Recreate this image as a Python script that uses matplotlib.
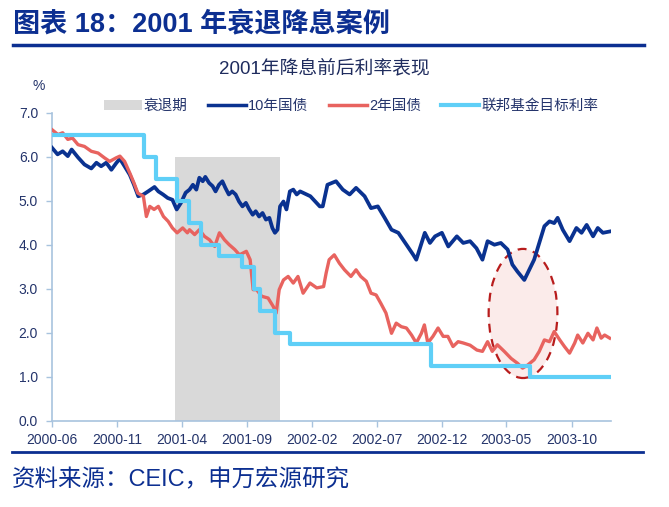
import matplotlib
matplotlib.use("Agg")
import matplotlib.pyplot as plt
import matplotlib.dates as mdates
from matplotlib.patches import Ellipse, Patch
from matplotlib.lines import Line2D
import pandas as pd

plt.rcParams['font.family'] = ['Liberation Sans', 'Noto Sans CJK SC', 'DejaVu Sans']

# ---------------- data ----------------
t10_dates = ["2000-06-01","2000-06-14","2000-06-26","2000-07-08","2000-07-17","2000-08-01","2000-08-16","2000-09-01","2000-09-13","2000-09-24",
             "2000-10-06","2000-10-18","2000-10-30","2000-11-07","2000-11-18","2000-11-30","2000-12-10","2000-12-20","2001-01-01","2001-01-12",
             "2001-01-27","2001-02-05","2001-02-16","2001-02-27","2001-03-10","2001-03-20","2001-03-30","2001-04-10",
             "2001-04-19","2001-04-27","2001-05-05","2001-05-12","2001-05-20","2001-05-26","2001-06-04","2001-06-12","2001-06-19","2001-06-27",
             "2001-07-05","2001-07-12","2001-07-20","2001-07-28","2001-08-05","2001-08-13","2001-08-21","2001-08-29","2001-09-06","2001-09-14",
             "2001-09-21","2001-09-29","2001-10-07","2001-10-15","2001-10-23","2001-10-30","2001-11-05","2001-11-11","2001-11-17","2001-11-25",
             "2001-12-02","2001-12-10","2001-12-18","2001-12-26","2002-01-03",
             "2002-01-27","2002-02-18","2002-02-25","2002-03-08","2002-03-28",
             "2002-04-13","2002-04-29","2002-05-14","2002-06-03","2002-06-18","2002-07-04","2002-07-20","2002-08-05","2002-08-21","2002-09-09",
             "2002-09-25","2002-10-02","2002-10-22","2002-11-03","2002-11-15","2002-12-01","2002-12-16","2003-01-05","2003-01-20","2003-02-05",
             "2003-02-20","2003-03-06","2003-03-18","2003-04-03","2003-04-18","2003-05-04","2003-05-15","2003-05-27","2003-06-12","2003-06-20",
             "2003-07-05","2003-07-17","2003-07-29","2003-08-10","2003-08-21","2003-08-29","2003-09-10","2003-09-26","2003-10-12","2003-10-24",
             "2003-11-05","2003-11-20","2003-12-01","2003-12-13","2003-12-29"]
t10_vals = [6.20,6.05,6.12,6.01,6.16,5.98,5.82,5.73,5.86,5.78,
            5.86,5.70,5.86,5.95,5.78,5.59,5.36,5.10,5.14,5.21,
            5.31,5.21,5.14,5.06,5.02,4.80,4.95,5.18,
            5.25,5.36,5.25,5.52,5.44,5.54,5.40,5.33,5.21,5.36,
            5.44,5.29,5.14,5.21,5.14,4.98,4.87,4.95,4.80,4.68,
            4.76,4.64,4.72,4.57,4.61,4.38,4.27,4.34,4.87,4.98,
            4.80,5.21,5.25,5.14,5.21,
            5.10,4.87,4.87,5.36,5.44,
            5.25,5.14,5.29,5.10,4.83,4.87,4.61,4.34,4.27,4.00,
            3.77,3.66,4.27,4.04,4.19,4.27,3.96,4.19,4.04,4.08,
            3.92,3.66,4.08,4.00,4.04,3.89,3.55,3.39,3.20,3.36,
            3.66,4.04,4.42,4.53,4.49,4.61,4.34,4.08,4.38,4.27,
            4.45,4.19,4.38,4.27,4.30]

t2_dates = ["2000-06-01","2000-06-15","2000-06-26","2000-07-08","2000-07-19","2000-08-01","2000-08-16","2000-09-01","2000-09-17","2000-10-02",
            "2000-10-14","2000-10-29","2000-11-07","2000-11-18","2000-11-30","2000-12-10","2000-12-19","2001-01-01","2001-01-08","2001-01-16",
            "2001-01-26","2001-02-05","2001-02-17","2001-02-28","2001-03-10","2001-03-21","2001-04-03","2001-04-14","2001-04-19","2001-05-01",
            "2001-05-12","2001-05-24","2001-06-05","2001-06-17","2001-06-28","2001-07-10","2001-07-21","2001-08-03","2001-08-14","2001-08-30",
            "2001-09-08","2001-09-15","2001-09-23","2001-10-05","2001-10-20","2001-11-01","2001-11-08","2001-11-15","2001-11-25","2001-12-06",
            "2001-12-18","2001-12-29","2002-01-10","2002-01-26","2002-02-11","2002-02-27","2002-03-05","2002-03-12","2002-03-24","2002-04-05",
            "2002-04-17","2002-05-02","2002-05-14","2002-05-25","2002-06-07","2002-06-18","2002-06-30","2002-07-11","2002-07-23","2002-08-05",
            "2002-08-16","2002-08-28","2002-09-09","2002-09-21","2002-10-02","2002-10-14","2002-10-21","2002-10-29","2002-11-10","2002-11-22",
            "2002-12-04","2002-12-15","2002-12-27","2003-01-08","2003-01-20","2003-02-05","2003-02-21","2003-03-06","2003-03-18","2003-03-29",
            "2003-04-10","2003-04-26","2003-05-12","2003-05-27","2003-06-08","2003-06-20","2003-07-05","2003-07-17","2003-07-29","2003-08-10",
            "2003-08-21","2003-09-03","2003-09-14","2003-09-26","2003-10-08","2003-10-15","2003-10-27","2003-11-08","2003-11-20","2003-11-29",
            "2003-12-09","2003-12-17","2003-12-29"]
t2_vals = [6.61,6.50,6.54,6.39,6.42,6.27,6.23,6.12,6.08,5.97,
           5.89,5.97,6.01,5.89,5.63,5.40,5.17,5.10,4.64,4.87,
           4.80,4.87,4.64,4.53,4.38,4.27,4.38,4.27,4.34,4.23,
           4.34,4.19,4.11,3.96,4.27,4.11,4.00,3.89,3.77,3.85,
           3.66,2.98,2.98,2.83,2.79,2.60,2.45,2.98,3.20,3.28,
           3.13,3.28,2.90,3.13,3.02,3.05,3.36,3.66,3.77,3.58,
           3.43,3.28,3.43,3.28,3.17,2.90,2.86,2.67,2.45,1.99,
           2.22,2.14,2.11,1.95,1.77,1.99,2.18,1.77,1.92,2.11,
           1.92,1.92,1.69,1.80,1.77,1.72,1.61,1.58,1.80,1.58,
           1.73,1.58,1.42,1.31,1.20,1.27,1.39,1.58,1.84,1.80,
           2.03,1.84,1.69,1.54,1.77,1.95,1.77,1.99,1.84,2.11,
           1.88,1.95,1.88]

fed_dates = ["2000-06-01","2001-01-03","2001-01-31","2001-03-20","2001-04-18","2001-05-15","2001-06-27",
             "2001-08-21","2001-09-17","2001-10-02","2001-11-06","2001-12-11","2002-11-06","2003-06-25","2003-12-31"]
fed_vals = [6.5,6.0,5.5,5.0,4.5,4.0,3.75,3.5,3.0,2.5,2.0,1.75,1.25,1.0,1.0]

recession_span = ["2001-03-15", "2001-11-18"]
recession_top = 6.0

series_names = ["衰退期", "10年国债", "2年国债", "联邦基金目标利率"]
xtick_labels = ["2000-06","2000-11","2001-04","2001-09","2002-02","2002-07","2002-12","2003-05","2003-10"]
yticks = [0,1,2,3,4,5,6,7]

highlight_center = ("2003-06-09", 2.44)
highlight_size = (161, 2.93)   # days, percent

# ---------------- styles ----------------
C_10 = "#0A3290"
C_2 = "#E8635F"
C_FED = "#5FCFF7"
C_GRAY = "#D9D9D9"
C_TXT = "#24346B"
C_AX = "#A8C3DE"
C_TITLE = "#0C2F91"

W, H = 669, 507
fig = plt.figure(figsize=(W/100, H/100), dpi=100)
fig.patch.set_facecolor("white")

ax = fig.add_axes([52/W, 1-421/H, (611-52)/W, (421-112.5)/H])

d10 = pd.to_datetime(t10_dates)
d2 = pd.to_datetime(t2_dates)
dfed = pd.to_datetime(fed_dates)
rs = pd.to_datetime(recession_span)

ax.fill_between(rs, [0, 0], [recession_top, recession_top], color=C_GRAY, lw=0, zorder=1)

cx = mdates.date2num(pd.Timestamp(highlight_center[0]))
ell = Ellipse((cx, highlight_center[1]), highlight_size[0], highlight_size[1],
              facecolor="#FBEBEA", edgecolor="#B81C1C", ls=(0, (4, 3)), lw=1.6, zorder=2)
ax.add_patch(ell)

ax.plot(d10, t10_vals, color=C_10, lw=2.7, zorder=3, solid_joinstyle="round")
ax.plot(d2, t2_vals, color=C_2, lw=2.4, zorder=4, solid_joinstyle="round")
ax.step(dfed, fed_vals, where="post", color=C_FED, lw=3, zorder=5)

ax.set_xlim(pd.Timestamp("2000-06-01"), pd.Timestamp("2004-01-01"))
ax.set_ylim(0, 7)
ax.set_yticks(yticks)
ax.set_yticklabels([f"{v:.1f}" for v in yticks])
ax.set_xticks(pd.to_datetime([s + "-01" for s in xtick_labels]))
ax.set_xticklabels(xtick_labels)

for s in ["top", "right"]:
    ax.spines[s].set_visible(False)
for s in ["left", "bottom"]:
    ax.spines[s].set_color(C_AX)
    ax.spines[s].set_linewidth(1.2)
ax.tick_params(axis="both", direction="out", length=4, width=1, color=C_AX,
               labelcolor=C_TXT, labelsize=10)
ax.tick_params(axis="x", pad=5)
ax.tick_params(axis="y", pad=6)
ax.set_facecolor("white")

handles = [Patch(facecolor=C_GRAY, edgecolor="none"),
           Line2D([], [], color=C_10, lw=2.5),
           Line2D([], [], color=C_2, lw=2.5),
           Line2D([], [], color=C_FED, lw=3)]
leg = fig.legend(handles, series_names, loc="center", bbox_to_anchor=(351/W, 1-106/H),
                 ncol=4, frameon=False, fontsize=10.5, handlelength=2.6, handletextpad=0.15,
                 columnspacing=1.4, borderaxespad=0, borderpad=0)
for t in leg.get_texts():
    t.set_color(C_TXT)

fig.text(12.7/W, 1-25/H, "图表 18：2001 年衰退降息案例", fontsize=19.5, fontweight="bold",
         color=C_TITLE, va="center", ha="left")
fig.add_artist(Line2D([12.7/W, 644/W], [1-44.5/H, 1-44.5/H], color=C_TITLE, lw=2.5))
fig.text(324/W, 1-68/H, "2001年降息前后利率表现", fontsize=13.5, color="#1F2C5E",
         ha="center", va="center")
fig.text(39/W, 1-86/H, "%", fontsize=10, color=C_TXT, ha="center", va="center")

fig.add_artist(Line2D([12/W, 643/W], [1-452/H, 1-452/H], color=C_TITLE, lw=2))
fig.text(12/W, 1-480/H, "资料来源：CEIC，申万宏源研究", fontsize=16.9, color=C_TITLE,
         ha="left", va="center")

fig.savefig("out.png", dpi=100, facecolor="white")
